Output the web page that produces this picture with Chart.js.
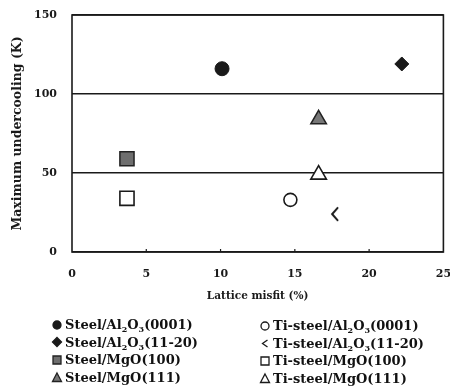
<!DOCTYPE html>
<html>
<head>
<meta charset="utf-8">
<script src="https://cdn.jsdelivr.net/npm/chart.js@4/dist/chart.umd.min.js"></script>
<style>
  html, body { margin: 0; padding: 0; background: #fff; }
  #wrap { position: relative; width: 450px; height: 391px; overflow: hidden; }
  #chartBox { position: absolute; left: 0; top: 0; width: 455px; height: 303px; }
  .legend { position: absolute; font-family: "DejaVu Serif", serif; font-weight: bold;
            font-size: 13px; line-height: 17.5px; color: #111; white-space: nowrap; letter-spacing: 0px; }
  .legend .row { display: flex; align-items: center; height: 17.5px; }
  .legend canvas { margin-right: 2px; }
  .legend sub { font-size: 8px; vertical-align: -3px; line-height: 0; }
</style>
</head>
<body>
<div id="wrap">
  <div id="chartBox"><canvas id="c"></canvas></div>
  <div class="legend" id="legL" style="left:51px; top:316px;"></div>
  <div class="legend" id="legR" style="left:259px; top:317px;"></div>
</div>
<script>
// ---- data ----
const seriesLabels = [
  'Steel/Al<sub>2</sub>O<sub>3</sub>(0001)',
  'Steel/Al<sub>2</sub>O<sub>3</sub>(11-20)',
  'Steel/MgO(100)',
  'Steel/MgO(111)',
  'Ti-steel/Al<sub>2</sub>O<sub>3</sub>(0001)',
  'Ti-steel/Al<sub>2</sub>O<sub>3</sub>(11-20)',
  'Ti-steel/MgO(100)',
  'Ti-steel/MgO(111)'
];
const latticeMisfit = [10.1, 22.2, 3.7, 16.6, 14.7, 17.7, 3.7, 16.6];
const maxUndercooling = [116, 119, 59, 84, 33, 24, 34, 49];
const xTicks = [0, 5, 10, 15, 20, 25];
const yTicks = [0, 50, 100, 150];

// ---- styles ----
const INK = '#1a1a1a';
function chevron(size) {
  const cv = document.createElement('canvas');
  cv.width = size; cv.height = size;
  const g = cv.getContext('2d');
  g.strokeStyle = INK; g.lineWidth = 2; g.lineCap = 'round';
  g.beginPath();
  g.moveTo(size * 0.66, size * 0.12);
  g.lineTo(size * 0.32, size * 0.5);
  g.lineTo(size * 0.66, size * 0.88);
  g.stroke();
  return cv;
}
const styles = [
  { pointStyle: 'circle',   radius: 7,   bg: INK,    border: INK, bw: 1 },
  { pointStyle: 'rectRot',  radius: 7,   bg: INK,    border: INK, bw: 1 },
  { pointStyle: 'rect',     radius: 10,  bg: '#6e6e6e', border: '#222', bw: 1.5 },
  { pointStyle: 'triangle', radius: 9,   bg: '#777', border: '#222', bw: 1.5 },
  { pointStyle: 'circle',   radius: 6.5, bg: '#fff', border: INK, bw: 1.6 },
  { pointStyle: chevron(16), radius: 8,  bg: '#fff', border: INK, bw: 1.6 },
  { pointStyle: 'rect',     radius: 10,  bg: '#fff', border: INK, bw: 1.6 },
  { pointStyle: 'triangle', radius: 9,   bg: '#fff', border: INK, bw: 1.6 }
];

const datasets = seriesLabels.map((lab, i) => ({
  label: lab.replace(/<\/?sub>/g, ''),
  data: [{ x: latticeMisfit[i], y: maxUndercooling[i] }],
  pointStyle: styles[i].pointStyle,
  pointRadius: styles[i].radius,
  pointHoverRadius: styles[i].radius,
  backgroundColor: styles[i].bg,
  borderColor: styles[i].border,
  borderWidth: styles[i].bw
}));

const frame = {
  id: 'frame',
  afterDatasetsDraw(chart) {
    const { ctx, chartArea: a, scales } = chart;
    ctx.save();
    ctx.strokeStyle = INK;
    ctx.lineWidth = 1.6;
    ctx.strokeRect(a.left, a.top, a.right - a.left, a.bottom - a.top);
    // small inward tick marks on the x axis
    ctx.lineWidth = 1.2;
    xTicks.forEach(v => {
      if (v === xTicks[0] || v === xTicks[xTicks.length - 1]) return;
      const px = scales.x.getPixelForValue(v);
      ctx.beginPath();
      ctx.moveTo(px, a.bottom);
      ctx.lineTo(px, a.bottom - 3);
      ctx.stroke();
    });
    ctx.restore();
  }
};

const tickFont = { family: '"DejaVu Serif", serif', weight: 'bold', size: 11 };

new Chart(document.getElementById('c'), {
  type: 'scatter',
  data: { datasets },
  options: {
    responsive: true,
    maintainAspectRatio: false,
    animation: false,
    events: [],
    layout: { padding: { left: 0, right: 0, top: 15, bottom: 0 } },
    plugins: { legend: { display: false }, tooltip: { enabled: false } },
    scales: {
      x: {
        type: 'linear',
        min: xTicks[0], max: xTicks[xTicks.length - 1],
        afterBuildTicks(s) { s.ticks = xTicks.map(v => ({ value: v })); },
        afterFit(s) { s.height = 51; },
        grid: { display: true, drawOnChartArea: false, drawTicks: true, tickLength: 16,
                tickColor: 'rgba(0,0,0,0)', color: 'rgba(0,0,0,0)' },
        border: { display: false },
        ticks: { font: tickFont, color: INK, padding: 0, maxRotation: 0, autoSkip: false },
        title: { display: true, text: 'Lattice misfit (%)', color: INK,
                 font: { family: '"DejaVu Serif", serif', weight: 'bold', size: 10.5 },
                 padding: 0 }
      },
      y: {
        type: 'linear',
        min: yTicks[0], max: yTicks[yTicks.length - 1],
        afterBuildTicks(s) { s.ticks = yTicks.map(v => ({ value: v })); },
        afterFit(s) { s.width = 72; },
        grid: { color: INK, lineWidth: 1.6, drawTicks: true, tickLength: 15, tickColor: 'rgba(0,0,0,0)' },
        border: { display: false },
        ticks: { font: tickFont, color: INK, padding: 0 },
        title: { display: true, text: 'Maximum undercooling (K)', color: INK,
                 font: { family: '"DejaVu Serif", serif', weight: 'bold', size: 12.5 },
                 padding: 10 }
      }
    }
  },
  plugins: [frame]
});

// ---- HTML legend (two columns, like the reference) ----
function markerCanvas(i) {
  const cv = document.createElement('canvas');
  cv.width = 12; cv.height = 12;
  const g = cv.getContext('2d');
  const st = styles[i];
  g.fillStyle = st.bg; g.strokeStyle = st.border; g.lineWidth = 1.3;
  g.beginPath();
  if (i === 0 || i === 4) { g.arc(6, 6, 4, 0, Math.PI * 2); }
  else if (i === 1) { g.moveTo(6, 1.5); g.lineTo(10.5, 6); g.lineTo(6, 10.5); g.lineTo(1.5, 6); g.closePath(); }
  else if (i === 2 || i === 6) { g.rect(2, 2, 8, 8); }
  else if (i === 3 || i === 7) { g.moveTo(6, 2); g.lineTo(10.5, 10.5); g.lineTo(1.5, 10.5); g.closePath(); }
  else if (i === 5) { g.moveTo(8.5, 3); g.lineTo(3.5, 6.5); g.lineTo(8.5, 10); g.stroke(); return cv; }
  g.fill(); g.stroke();
  return cv;
}
['legL', 'legR'].forEach((id, col) => {
  const box = document.getElementById(id);
  for (let k = 0; k < 4; k++) {
    const i = col * 4 + k;
    const row = document.createElement('div');
    row.className = 'row';
    row.appendChild(markerCanvas(i));
    const span = document.createElement('span');
    span.innerHTML = seriesLabels[i];
    row.appendChild(span);
    box.appendChild(row);
  }
});
</script>
</body>
</html>
